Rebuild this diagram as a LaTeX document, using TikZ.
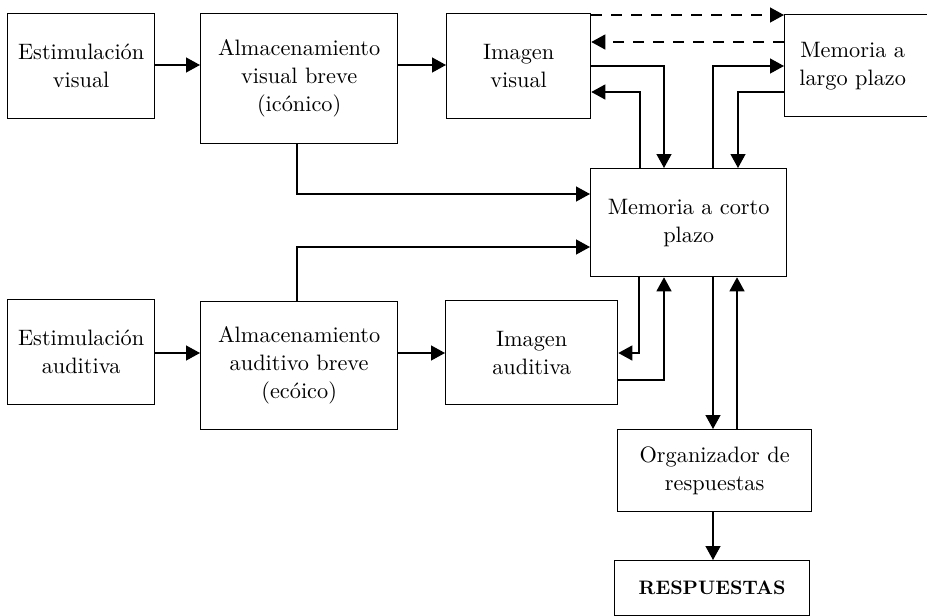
\documentclass[tikz,border=0pt]{standalone}
\usepackage{fontspec}
\setmainfont{lmroman10-regular.otf}[BoldFont=lmroman10-bold.otf]
\usetikzlibrary{arrows.meta}
\begin{document}
\begin{tikzpicture}[x=1pt,y=-1pt,
  box/.style={draw, line width=1.3pt, anchor=north west, inner sep=0pt, align=center,
    font=\fontsize{22.3}{28}\selectfont},
  arr/.style={line width=1.3pt, -{Triangle[length=14pt,width=15pt]}},
  dsh/.style={arr, dash pattern=on 11pt off 9pt}]
\useasboundingbox (0,0) rectangle (927,616);
\node[box, minimum width=147pt, minimum height=105pt] (ev) at (7,13) {Estimulación\\visual};
\node[box, minimum width=197pt, minimum height=130pt] (av) at (200,13) {Almacenamiento\\visual breve\\(icónico)};
\node[box, minimum width=144pt, minimum height=105pt] (iv) at (446,13) {Imagen\\visual};
\node[box, minimum width=151pt, minimum height=102pt] (mlp) at (784,14) {\begin{tabular}{@{}c@{}}Memoria a\\largo plazo\end{tabular}\hspace*{15pt}};
\node[box, minimum width=196pt, minimum height=108pt] (mcp) at (590,168) {Memoria a corto\\plazo};
\node[box, minimum width=147pt, minimum height=105pt] (ea) at (7,299) {Estimulación\\auditiva};
\node[box, minimum width=197pt, minimum height=128pt] (aa) at (200,301) {Almacenamiento\\auditivo breve\\(ecóico)};
\node[box, minimum width=172pt, minimum height=104pt] (ia) at (445,300) {Imagen\\auditiva};
\node[box, minimum width=194pt, minimum height=82pt] (org) at (617,429) {Organizador de\\respuestas};
\node[box, minimum width=195pt, minimum height=55pt, font=\fontsize{19.5}{23}\selectfont\bfseries] (resp) at (614,560) {\raisebox{-3pt}{RESPUESTAS}};
% horizontal feed arrows
\draw[arr] (ev.east |- 0,65) -- (av.west |- 0,65);
\draw[arr] (av.east |- 0,65) -- (iv.west |- 0,65);
\draw[arr] (ea.east |- 0,353) -- (aa.west |- 0,353);
\draw[arr] (aa.east |- 0,353) -- (ia.west |- 0,353);
% to short-term memory
\draw[arr] (av.south -| 297,0) |- (mcp.west |- 0,194);
\draw[arr] (aa.north -| 297,0) |- (mcp.west |- 0,247);
% dashed between image and long-term memory
\draw[dsh] (iv.east |- 0,15) -- (mlp.west |- 0,15);
\draw[dsh] (mlp.west |- 0,42) -- (iv.east |- 0,42);
% visual image <-> MCP
\draw[arr] (iv.east |- 0,66) -| (mcp.north -| 664,0);
\draw[arr] (mcp.north -| 640,0) |- (iv.east |- 0,92);
% MCP <-> MLP
\draw[arr] (mcp.north -| 713,0) |- (mlp.west |- 0,66);
\draw[arr] (mlp.west |- 0,92) -| (mcp.north -| 738,0);
% auditory image <-> MCP
\draw[arr] (mcp.south -| 639,0) |- (ia.east |- 0,353);
\draw[arr] (ia.east |- 0,380) -| (mcp.south -| 664,0);
% MCP <-> organizer
\draw[arr] (mcp.south -| 713,0) -- (org.north -| 713,0);
\draw[arr] (org.north -| 737,0) -- (mcp.south -| 737,0);
\draw[arr] (org.south -| 713,0) -- (resp.north -| 713,0);
\end{tikzpicture}
\end{document}
